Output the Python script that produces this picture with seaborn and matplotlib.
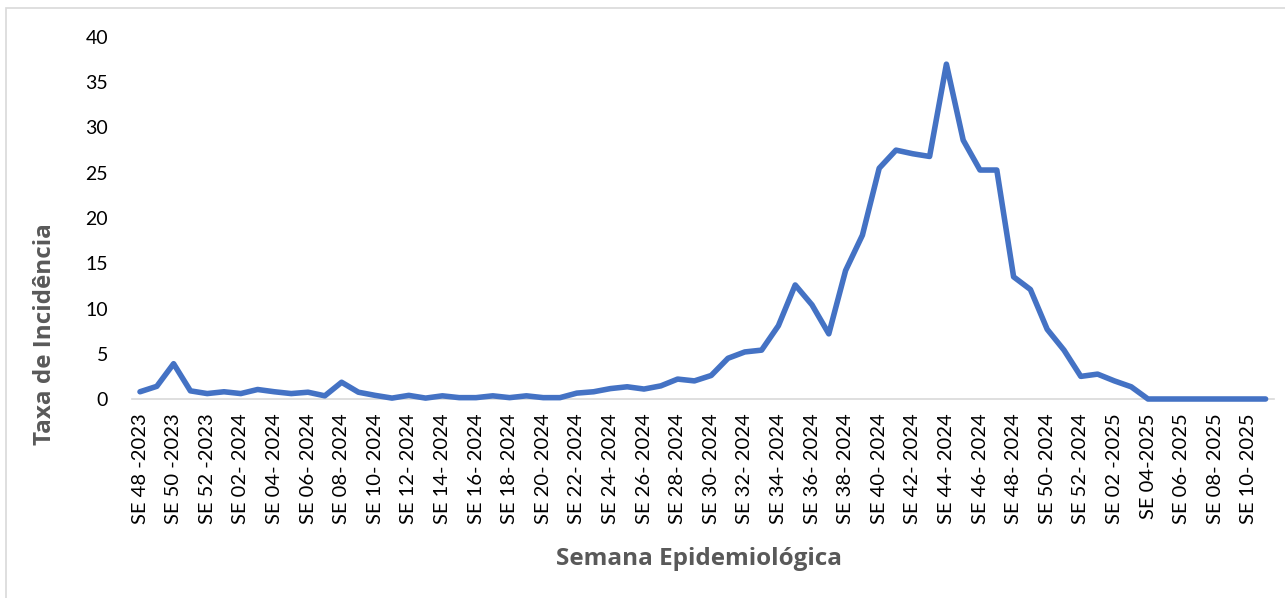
import numpy as np
import pandas as pd
import seaborn as sns
from matplotlib import pyplot as plt
from matplotlib.patches import Rectangle

# %% Data
Weeks = ([f'SE {w:02d}-2023' for w in range(48, 53)] +
         [f'SE {w:02d}-2024' for w in range(1, 53)] +
         [f'SE {w:02d}-2025' for w in range(1, 12)])

Incidence = [0.8, 1.4, 3.9, 0.9, 0.6, 0.8, 0.6, 1.05, 0.8, 0.6,
             0.75, 0.35, 1.85, 0.75, 0.4, 0.1, 0.4, 0.1, 0.35, 0.15,
             0.15, 0.35, 0.15, 0.35, 0.15, 0.15, 0.65, 0.8, 1.15, 1.35,
             1.1, 1.45, 2.2, 2.0, 2.6, 4.5, 5.2, 5.4, 8.1, 12.6,
             10.4, 7.2, 14.2, 18.1, 25.5, 27.5, 27.1, 26.8, 37.0, 28.6,
             25.3, 25.3, 13.5, 12.1, 7.7, 5.4, 2.5, 2.75, 2.0, 1.35,
             0.0, 0.0, 0.0, 0.0, 0.0, 0.0, 0.0, 0.0]

TickLabels = ['SE 48 -2023', 'SE 50 -2023', 'SE 52 -2023',
              'SE 02- 2024', 'SE 04- 2024', 'SE 06- 2024', 'SE 08- 2024',
              'SE 10- 2024', 'SE 12- 2024', 'SE 14- 2024', 'SE 16- 2024',
              'SE 18- 2024', 'SE 20- 2024', 'SE 22- 2024', 'SE 24- 2024',
              'SE 26- 2024', 'SE 28- 2024', 'SE 30- 2024', 'SE 32- 2024',
              'SE 34- 2024', 'SE 36- 2024', 'SE 38- 2024', 'SE 40- 2024',
              'SE 42- 2024', 'SE 44- 2024', 'SE 46- 2024', 'SE 48- 2024',
              'SE 50- 2024', 'SE 52- 2024', 'SE 02 -2025', 'SE 04-2025',
              'SE 06- 2025', 'SE 08- 2025', 'SE 10- 2025']

dfData = pd.DataFrame({'Week': Weeks, 'Incidence': Incidence})
dfData['Pos'] = np.arange(len(dfData))

# %% Plot
sns.set_theme(style='white')
plt.rcParams['font.family'] = ['Lato', 'DejaVu Sans']

W, H = 1285, 598
fig = plt.figure(figsize=(W / 100, H / 100), dpi=100)
ax = fig.add_axes([131.6 / W, 1 - 399 / H, (1274 - 131.6) / W, (399 - 37) / H])

sns.lineplot(data=dfData, x='Pos', y='Incidence', ax=ax,
             color='#4472C4', linewidth=4, clip_on=False)

ax.set_xlim(-0.5, len(dfData) - 0.5)
ax.set_ylim(0, 40)
ax.set_yticks(range(0, 41, 5))
ax.set_xticks(dfData['Pos'][::2])
ax.set_xticklabels(TickLabels, rotation=90, fontsize=14.5, color='black')
ax.tick_params(axis='y', labelsize=14, labelcolor='black', pad=17, length=0)
ax.tick_params(axis='x', pad=10, length=0)

for side in ['top', 'right', 'left']:
    ax.spines[side].set_visible(False)
ax.spines['bottom'].set_color('#d9d9d9')
ax.spines['bottom'].set_linewidth(1.2)
ax.spines['bottom'].set_zorder(0)

ax.set_xlabel('')
ax.set_ylabel('')
fig.text(699 / W, 1 - 559 / H, 'Semana Epidemiológica', fontsize=17.5,
         fontweight='bold', color='#595959', family=['Open Sans', 'DejaVu Sans'],
         ha='center', va='center')
fig.text(45 / W, 1 - 334 / H, 'Taxa de Incidência', fontsize=17.5,
         fontweight='bold', color='#595959', family=['Open Sans', 'DejaVu Sans'],
         rotation=90, ha='center', va='center')

# chart area border
fig.patches.append(Rectangle((6 / W, -0.01), 1.02, 1 - 8 / H + 0.01,
                             transform=fig.transFigure, fill=False,
                             edgecolor='#d9d9d9', linewidth=1.2))

fig.savefig('out.png', dpi=100)
